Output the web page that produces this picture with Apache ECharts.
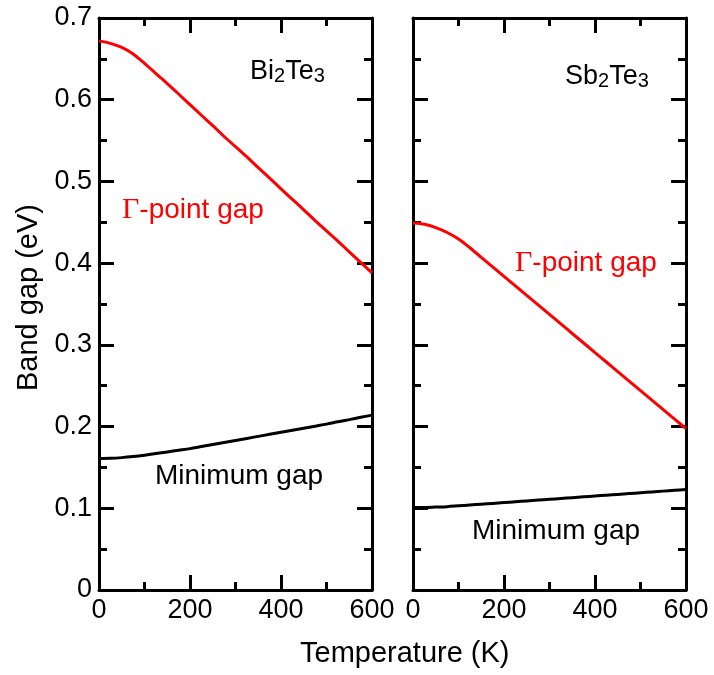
<!DOCTYPE html>
<html>
<head>
<meta charset="utf-8">
<script src="https://cdn.jsdelivr.net/npm/echarts@6/dist/echarts.min.js"></script>
<style>html,body{margin:0;padding:0;background:#fff}#c{width:714px;height:675px}</style>
</head>
<body>
<div id="c"></div>
<script>
// Temperatures (K)
var temps = [0, 25, 50, 75, 100, 125, 150, 175, 200, 225, 250, 275, 300,
             325, 350, 375, 400, 425, 450, 475, 500, 525, 550, 575, 600];
// Bi2Te3
var biGamma = [0.672, 0.669, 0.664, 0.656, 0.6445, 0.632, 0.6198, 0.607, 0.594, 0.581, 0.5683, 0.555, 0.5425,
               0.530, 0.5168, 0.504, 0.491, 0.478, 0.4653, 0.452, 0.4395, 0.427, 0.4138, 0.401, 0.388];
var biMin   = [0.161, 0.1612, 0.162, 0.1633, 0.165, 0.167, 0.169, 0.171, 0.173, 0.1755, 0.178, 0.1805, 0.183,
               0.1855, 0.188, 0.1905, 0.193, 0.1955, 0.198, 0.2005, 0.203, 0.2058, 0.2085, 0.2113, 0.214];
// Sb2Te3
var sbGamma = [0.449, 0.4475, 0.4435, 0.4375, 0.4295, 0.4188, 0.4071, 0.3955, 0.3838, 0.3722, 0.3605, 0.3489, 0.3372,
               0.3256, 0.3139, 0.3023, 0.2906, 0.279, 0.2673, 0.2557, 0.244, 0.2324, 0.2207, 0.2091, 0.1974];
var sbMin   = [0.101, 0.101, 0.1015, 0.102, 0.103, 0.104, 0.105, 0.106, 0.107, 0.108, 0.109, 0.110, 0.111,
               0.112, 0.113, 0.114, 0.115, 0.116, 0.117, 0.118, 0.119, 0.120, 0.121, 0.122, 0.123];
// Axis ticks
var xTicks = {min: 0, max: 600, interval: 200};
var yTicks = {min: 0, max: 0.7, interval: 0.1};
var panelNames = ['Bi{s|2}Te{s|3}', 'Sb{s|2}Te{s|3}'];

function pairs(xs, ys) { return xs.map(function (x, i) { return [x, ys[i]]; }); }

var FONT = 'Liberation Sans';
var axisLineStyle = {color: '#000', width: 3};
var tickStyle = {color: '#000', width: 3};

function xAxis(gi, pos, showLabel) {
  return {
    type: 'value', gridIndex: gi, position: pos,
    min: xTicks.min, max: xTicks.max, interval: xTicks.interval,
    axisLine: {show: true, onZero: false, lineStyle: axisLineStyle},
    axisTick: {show: true, inside: true, length: 15, lineStyle: tickStyle},
    minorTick: {show: true, splitNumber: 2, length: 8, lineStyle: tickStyle},
    splitLine: {show: false},
    axisLabel: {show: showLabel, color: '#000', fontFamily: FONT, fontSize: 27, margin: 7,
      showMinLabel: true, showMaxLabel: true}
  };
}
function yAxis(gi, pos, showLabel) {
  return {
    type: 'value', gridIndex: gi, position: pos,
    min: yTicks.min, max: yTicks.max, interval: yTicks.interval,
    axisLine: {show: true, onZero: false, lineStyle: axisLineStyle},
    axisTick: {show: true, inside: true, length: 15, lineStyle: tickStyle},
    minorTick: {show: true, splitNumber: 2, length: 8, lineStyle: tickStyle},
    splitLine: {show: false},
    axisLabel: {show: showLabel, color: '#000', fontFamily: FONT, fontSize: 27, margin: 7,
      showMinLabel: true, showMaxLabel: true,
      formatter: function (v) { return v === 0 ? '0' : v.toFixed(1); }}
  };
}
function line(xi, yi, data, color) {
  return {type: 'line', xAxisIndex: xi, yAxisIndex: yi, data: data, smooth: 0.3,
    showSymbol: false, symbol: 'none', lineStyle: {color: color, width: 3}, silent: true, animation: false};
}

var rich = {
  n: {fontFamily: FONT, fontSize: 27, lineHeight: 28, verticalAlign: 'top', fill: '#000'},
  s: {fontFamily: FONT, fontSize: 20, lineHeight: 20, padding: [18, 0, 0, 0], verticalAlign: 'bottom', fill: '#000'}
};
var gRich = {
  g: {fontFamily: 'Liberation Serif', fontSize: 30, fill: '#ff0000'},
  t: {fontFamily: FONT, fontSize: 28, fill: '#ff0000'}
};
function sub(str) { return str.replace(/^([^{]+)/, '{n|$1}').replace(/\}([A-Za-z]+)\{/g, '}{n|$1}{'); }

var chart = echarts.init(document.getElementById('c'), null, {renderer: 'canvas'});
chart.setOption({
  animation: false,
  backgroundColor: '#fff',
  grid: [
    {left: 99, top: 18, width: 273, height: 572},
    {left: 413, top: 18, width: 273, height: 572}
  ],
  xAxis: [xAxis(0, 'bottom', true), xAxis(0, 'top', false), xAxis(1, 'bottom', true), xAxis(1, 'top', false)],
  yAxis: [yAxis(0, 'left', true), yAxis(0, 'right', false), yAxis(1, 'left', false), yAxis(1, 'right', false)],
  series: [
    line(0, 0, pairs(temps, biGamma), '#ff0000'),
    line(0, 0, pairs(temps, biMin), '#000000'),
    line(2, 2, pairs(temps, sbGamma), '#ff0000'),
    line(2, 2, pairs(temps, sbMin), '#000000')
  ],
  graphic: [
    {type: 'text', left: 250, top: 48, style: {text: sub(panelNames[0]), rich: rich}},
    {type: 'text', left: 565, top: 53, style: {text: sub(panelNames[1]), rich: rich}},
    {type: 'text', left: 122, top: 195, style: {text: '{g|Γ}{t|-point gap}', rich: gRich}},
    {type: 'text', left: 515, top: 248, style: {text: '{g|Γ}{t|-point gap}', rich: gRich}},
    {type: 'text', left: 155, top: 462, style: {text: 'Minimum gap', fontFamily: FONT, fontSize: 28, fill: '#000'}},
    {type: 'text', left: 472, top: 517, style: {text: 'Minimum gap', fontFamily: FONT, fontSize: 28, fill: '#000'}},
    {type: 'text', left: 300, top: 639, style: {text: 'Temperature (K)', fontFamily: FONT, fontSize: 29, fill: '#000'}},
    {type: 'text', left: 14, top: 204, rotation: Math.PI / 2, style: {text: 'Band gap (eV)', fontFamily: FONT, fontSize: 29, fill: '#000'}}
  ]
});
</script>
</body>
</html>
